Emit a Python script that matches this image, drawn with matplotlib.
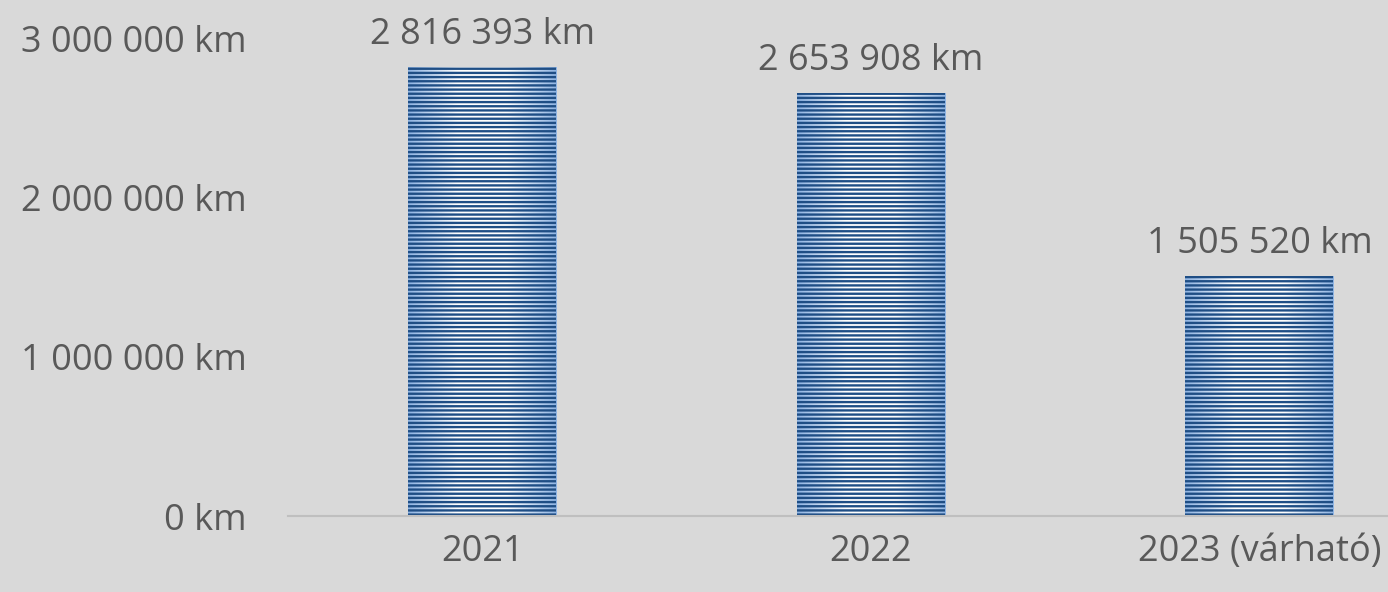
import numpy as np
import matplotlib
matplotlib.use('Agg')
import matplotlib.pyplot as plt
import matplotlib.ticker as ticker
from matplotlib.colors import LinearSegmentedColormap

years = ['2021', '2022', '2023 (várható)']
km = [2816393, 2653908, 1505520]
yticks = [0, 1000000, 2000000, 3000000]


def fmt_km(v):
    return '{:,}'.format(int(v)).replace(',', ' ') + ' km'


plt.rcParams['font.family'] = ['Open Sans', 'DejaVu Sans']
plt.rcParams['hatch.linewidth'] = 1.7

fig = plt.figure(figsize=(13.88, 5.92), dpi=100)
fig.patch.set_facecolor('#D9D9D9')
ax = fig.add_axes([288 / 1388, 76 / 592, 1100 / 1388, 478 / 592])
ax.set_facecolor('#D9D9D9')

x = np.arange(len(years))
w = 148 / 388.5
bars = ax.bar(x, km, width=w, color='none', edgecolor='#1F4E85',
              linewidth=0, hatch='----', zorder=3)

# light blue fade at the bar edges, white in the middle
cmap = LinearSegmentedColormap.from_list('edge', ['#8FB4E3', '#FFFFFF', '#FFFFFF', '#8FB4E3'])
grad = np.linspace(0, 1, 200).reshape(1, -1)
for b in bars:
    im = ax.imshow(grad, cmap=cmap, aspect='auto', zorder=2,
                   extent=[b.get_x(), b.get_x() + b.get_width(), 0, b.get_height()])
ax.set_aspect('auto')

for b, v in zip(bars, km):
    ax.annotate(fmt_km(v), (b.get_x() + b.get_width() / 2, v), xytext=(0, 10),
                textcoords='offset points', ha='center', va='bottom',
                fontsize=26, color='#595959')

ax.set_xlim(-0.5, 2.331)
ax.set_ylim(0, 3000000)
ax.set_xticks(x)
ax.set_xticklabels(years)
ax.set_yticks(yticks)
ax.yaxis.set_major_formatter(ticker.FuncFormatter(lambda v, p: fmt_km(v)))
ax.tick_params(axis='both', length=0, labelsize=26, labelcolor='#595959')
ax.tick_params(axis='x', pad=13)
ax.tick_params(axis='y', pad=30)
for s in ['top', 'right', 'left']:
    ax.spines[s].set_visible(False)
ax.spines['bottom'].set_color('#BFBFBF')
ax.spines['bottom'].set_linewidth(1.5)
ax.spines['bottom'].set_zorder(4)

fig.savefig('out.png', dpi=100, facecolor=fig.get_facecolor())
